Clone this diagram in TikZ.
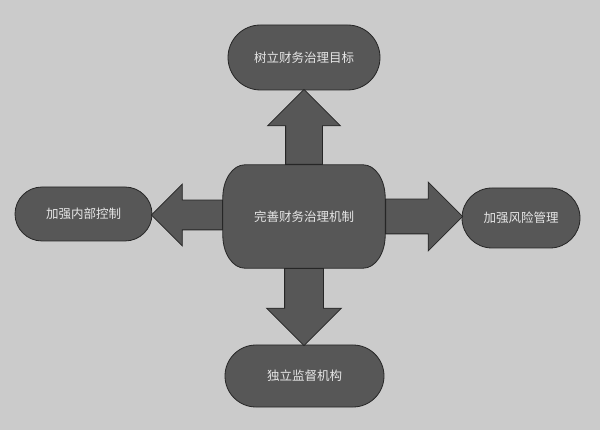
\documentclass[tikz,border=0pt]{standalone}
\usepackage{fontspec}
\newfontfamily\cjk{Noto Sans CJK SC}
\usepackage{tikz}
\usetikzlibrary{shapes.misc, shapes.arrows, calc, positioning, backgrounds}

\definecolor{bggray}{HTML}{CBCBCB}
\definecolor{boxgray}{HTML}{575757}
\definecolor{boxtext}{HTML}{E6E6E6}

\tikzset{
  goalbox/.style={rounded rectangle, draw=black!85, line width=0.8pt, fill=boxgray, text=boxtext, inner sep=0pt, font=\cjk\fontsize{12.5}{15}\selectfont},
  corebox/.style={rectangle, inner sep=0pt, text=boxtext, font=\cjk\fontsize{12.5}{15}\selectfont},
  coreline/.style={draw=black!85, line width=0.8pt, fill=boxgray},
  fatarrow/.style={single arrow, draw=black!85, line width=0.8pt, fill=boxgray, inner xsep=0pt, single arrow head indent=0pt, anchor=tail}
}

\begin{document}
\begin{tikzpicture}[x=1pt, y=-1pt]
    \useasboundingbox (0,0) rectangle (600,430);
    % Central box
    \node[corebox, minimum width=162pt, minimum height=103pt] (core) at (304,216.5) {完善财务治理机制};
    % Background and outline of central box
    \begin{scope}[on background layer]
        \fill[bggray] (0,0) rectangle (600,430);
        \draw[coreline] ($(core.north west)+(22,0)$) -- ($(core.north east)+(-22,0)$)
            arc[start angle=-90, end angle=0, x radius=22, y radius=33]
            -- ($(core.south east)+(0,-33)$)
            arc[start angle=0, end angle=90, x radius=22, y radius=33]
            -- ($(core.south west)+(22,0)$)
            arc[start angle=90, end angle=180, x radius=22, y radius=33]
            -- ($(core.north west)+(0,33)$)
            arc[start angle=180, end angle=270, x radius=22, y radius=33] -- cycle;
    \end{scope}
    % Outer boxes
    \node[goalbox, minimum width=152pt, minimum height=65pt] (goal) at (304,57.5) {树立财务治理目标};
    \node[goalbox, minimum width=137pt, minimum height=54pt] (control) at (83.5,214) {加强内部控制};
    \node[goalbox, minimum width=118pt, minimum height=60pt] (risk) at (521,218) {加强风险管理};
    \node[goalbox, minimum width=159pt, minimum height=62pt] (supervise) at (304.5,376) {独立监督机构};
    % Block arrows
    \node[fatarrow, rotate=90, minimum height=75pt, inner ysep=18pt, single arrow head extend=18pt] (toGoal) at (core.north) {};
    \node[fatarrow, rotate=180, minimum height=71pt, inner ysep=14.5pt, single arrow head extend=16pt] (toControl) at ($(core.west)+(0,-1.5)$) {};
    \node[fatarrow, minimum height=77pt, inner ysep=17pt, single arrow head extend=17pt] (toRisk) at (core.east) {};
    \node[fatarrow, rotate=-90, minimum height=77pt, inner ysep=19pt, single arrow head extend=18pt] (toSupervise) at (core.south) {};
\end{tikzpicture}
\end{document}
